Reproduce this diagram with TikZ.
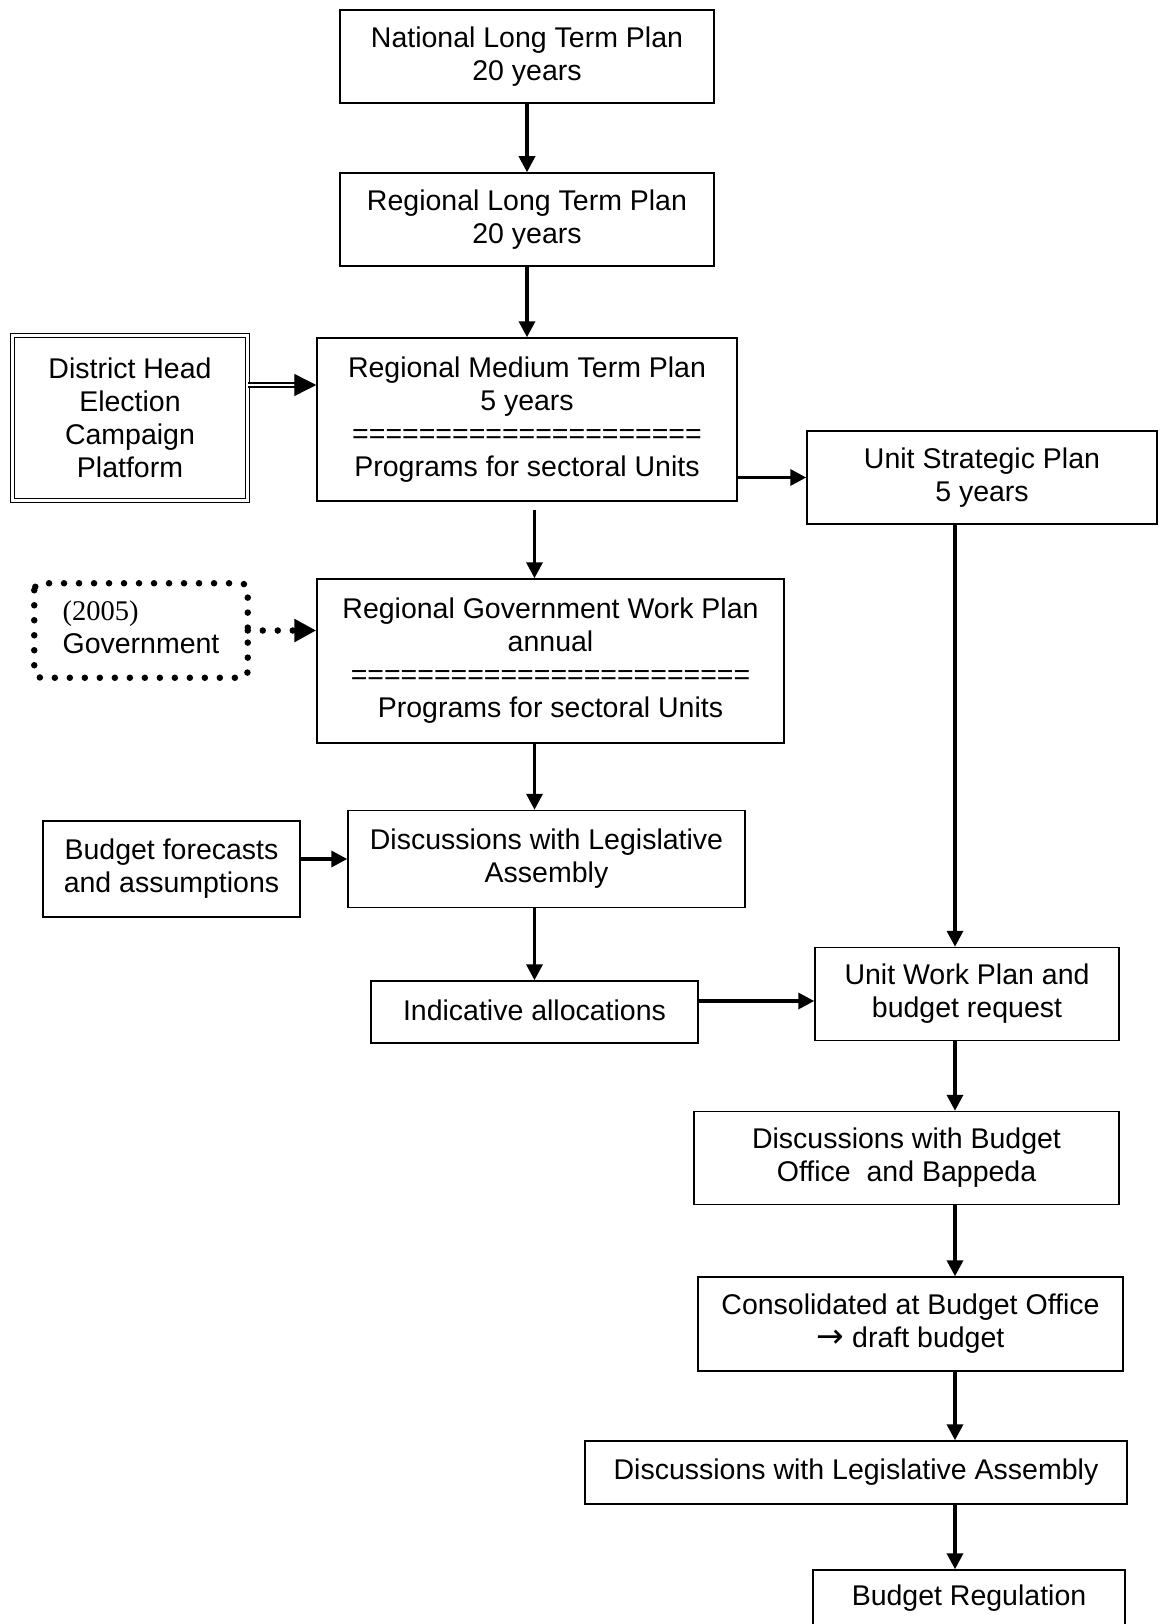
\documentclass[tikz,border=0pt]{standalone}
\usepackage{fontspec}
\setmainfont{Liberation Sans}
\newfontfamily\serifnum{Liberation Serif}
\newfontfamily\symfont{DejaVu Sans}
\usetikzlibrary{arrows.meta}

\tikzset{
  box/.style={draw, line width=1.5pt, inner sep=0pt, align=center,
    font=\fontsize{28.5}{33}\selectfont},
  flow/.style={line width=3.5pt, -{Triangle[length=16pt,width=16pt]}},
  bigtip/.style={-{Triangle[length=22pt,width=22pt]}},
  dotline/.style={line width=6.5pt, line cap=round, dash pattern=on 0pt off 15pt},
}

\begin{document}
\begin{tikzpicture}[x=1pt, y=-1pt]
\useasboundingbox (0,0) rectangle (1159,1624);

% main column
\node[box, minimum width=374, minimum height=93] (nat) at (527,56.5)
  {National Long Term Plan\\20 years};
\node[box, minimum width=374, minimum height=93] (rlt) at (527,219.5)
  {Regional Long Term Plan\\20 years};
\node[box, minimum width=420, minimum height=163] (rmt) at (527,419.5)
  {Regional Medium Term Plan\\5 years\\=====================\\Programs for sectoral Units};
\node[box, minimum width=467, minimum height=164] (rwp) at (550.5,661)
  {Regional Government Work Plan\\annual\\========================\\Programs for sectoral Units};
\node[box, minimum width=397, minimum height=97] (dla) at (546.5,859)
  {Discussions with Legislative\\Assembly};
\node[box, minimum width=327, minimum height=62] (ia) at (534.5,1012)
  {\raisebox{4pt}{Indicative allocations}};

% side inputs
\node[box, double, double distance=3pt, line width=1.3pt,
      minimum width=235, minimum height=165] (dh) at (130,418)
  {District Head\\Election\\Campaign\\Platform};
\node[box, draw=none, minimum width=212, minimum height=93] (gov) at (141,630.5)
  {\begin{tabular}{@{}l@{}}{\serifnum(2005)}\\Government\end{tabular}};
\draw[dotline, rounded corners=7pt] (gov.north west) rectangle (gov.south east);
\node[box, minimum width=257, minimum height=96] (bf) at (171.5,869)
  {Budget forecasts\\and assumptions};

% unit column
\node[box, minimum width=350, minimum height=93] (us) at (982,477.5)
  {Unit Strategic Plan\\5 years};
\node[box, minimum width=304, minimum height=93] (uwp) at (967,994)
  {Unit Work Plan and\\budget request};
\node[box, minimum width=425, minimum height=93] (dbo) at (906.5,1158)
  {Discussions with Budget\\Office\ \ and Bappeda};
\node[box, minimum width=425, minimum height=94] (cbo) at (910.5,1324)
  {Consolidated at Budget Office\\{\symfont\fontsize{33}{33}\selectfont →} draft budget};
\node[box, minimum width=542, minimum height=63] (dla2) at (856,1472.5)
  {Discussions with Legislative Assembly};
\node[box, minimum width=312, minimum height=56] (br) at (969,1598)
  {Budget Regulation};

\coordinate (spine) at (955,0);

% connectors
\draw[flow] (nat) -- (rlt);
\draw[flow] (rlt) -- (rmt);
\draw[line width=1.4pt, double, double distance=2.5pt, bigtip]
  ([yshift=33pt]dh.east) -- ([yshift=33pt]dh.east -| rmt.west);
\draw[flow] (rmt.east |- us.west) -- (us.west);
\draw[flow, shorten <=8pt] (rmt.south -| ia.north) -- (rwp.north -| ia.north);
\draw[dotline, bigtip] (gov.east) -- (gov.east -| rwp.west);
\draw[flow] (rwp.south -| ia.north) -- (dla.north -| ia.north);
\draw[flow] (bf.east |- dla.west) -- (dla.west);
\draw[flow] (dla.south -| ia.north) -- (ia.north);
\draw[flow] ([yshift=11pt]ia.east) -- ([yshift=11pt]ia.east -| uwp.west);
\draw[flow] (us.south -| spine) -- (uwp.north -| spine);
\draw[flow] (uwp.south -| spine) -- (dbo.north -| spine);
\draw[flow] (dbo.south -| spine) -- (cbo.north -| spine);
\draw[flow] (cbo.south -| spine) -- (dla2.north -| spine);
\draw[flow] (dla2.south -| spine) -- (br.north -| spine);
\end{tikzpicture}
\end{document}
